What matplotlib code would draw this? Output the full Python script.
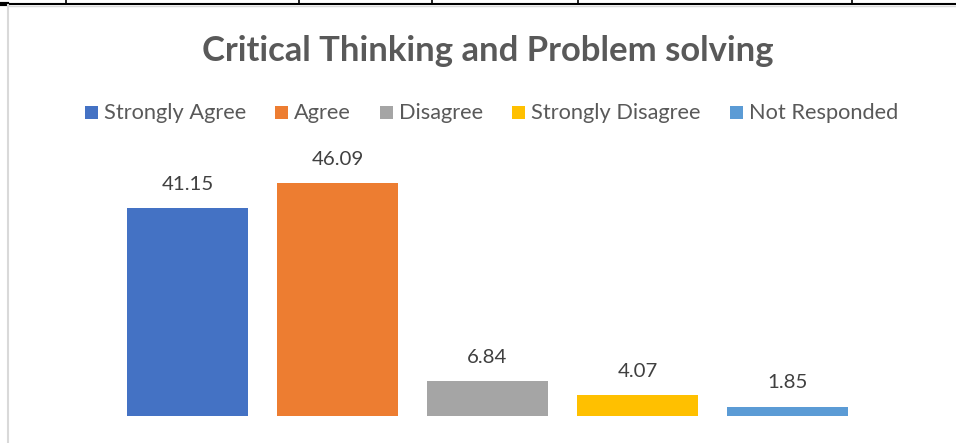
import matplotlib
matplotlib.use("Agg")
import matplotlib.pyplot as plt
from matplotlib.patches import Rectangle
from matplotlib.lines import Line2D

# Survey responses (%)
categories = ["Strongly Agree", "Agree", "Disagree", "Strongly Disagree", "Not Responded"]
values = [41.15, 46.09, 6.84, 4.07, 1.85]
colors = ["#4472C4", "#ED7D31", "#A5A5A5", "#FFC000", "#5B9BD5"]
title = "Critical Thinking and Problem solving"

W, H = 956, 443
fig = plt.figure(figsize=(W / 100, H / 100), dpi=100)
fig.patch.set_facecolor("white")

FONT = ["Lato", "DejaVu Sans"]
TXT = "#595959"


def fx(px):
    return px / W


def fy(py):
    return 1 - py / H


# plot area: value 0 at y=416 px, bars 150 px apart, first centered at 187.5 px
ax_left, ax_right = 50, 926
ax_bottom, ax_top = 416, 150
ax = fig.add_axes([fx(ax_left), fy(ax_bottom), (ax_right - ax_left) / W, (ax_bottom - ax_top) / H])
scale_y = 5.055
ax.set_ylim(0, (ax_bottom - ax_top) / scale_y)
ax.set_xlim((ax_left - 187.5) / 150, (ax_right - 187.5) / 150)
ax.axis("off")

x = list(range(len(values)))
bars = ax.bar(x, values, width=121 / 150, color=colors)
for xi, v in zip(x, values):
    ax.annotate(f"{v:.2f}", (xi, v), xytext=(0, 11), textcoords="offset points",
                ha="center", va="bottom", fontsize=14.7, color="#404040", family=FONT)

# title
fig.text(fx(488), fy(51), title, ha="center", va="center", fontsize=24.9,
         fontweight="bold", color=TXT, family=FONT)

# legend
sq_x = [85, 275, 380, 512, 730]
for cx, lab, col in zip(sq_x, categories, colors):
    fig.patches.append(Rectangle((fx(cx), fy(119)), fx(13), 13 / H, transform=fig.transFigure,
                                 facecolor=col, edgecolor="none"))
    fig.text(fx(cx + 19), fy(113), lab, ha="left", va="center", fontsize=15.7,
             color=TXT, family=FONT)

# surrounding page lines
fig.lines.append(Line2D([0, 1], [fy(4), fy(4)], transform=fig.transFigure, color="black", lw=1.5))
fig.lines.append(Line2D([0, fx(7)], [fy(4), fy(4)], transform=fig.transFigure, color="black", lw=3))
for vx in [66, 299, 432, 578, 852]:
    fig.lines.append(Line2D([fx(vx), fx(vx)], [1, fy(4)], transform=fig.transFigure, color="black", lw=1.2))
fig.lines.append(Line2D([fx(7.5), fx(7.5)], [fy(5), 0], transform=fig.transFigure, color="#D9D9D9", lw=1.5))
fig.lines.append(Line2D([fx(7.5), 1], [fy(5.5), fy(5.5)], transform=fig.transFigure, color="#D9D9D9", lw=1))

fig.savefig("out.png", dpi=100, facecolor="white")
